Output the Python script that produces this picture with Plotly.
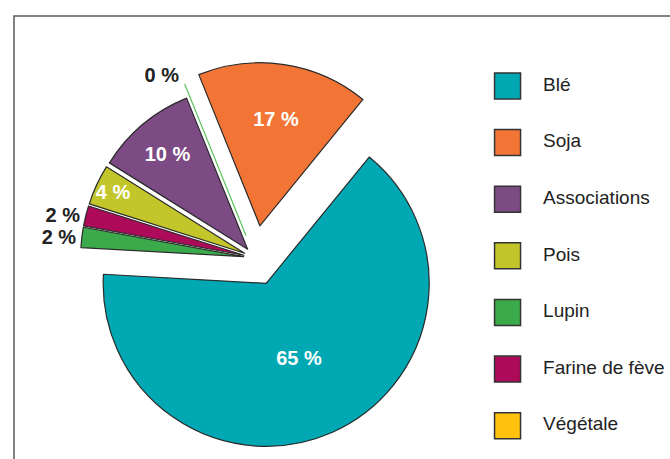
import plotly.graph_objects as go

# ---- data ----
slice_labels = ["Soja", "Blé", "Lupin", "Farine de fève", "Pois", "Associations", "Végétale"]
slice_values = [17, 65, 2, 2, 4, 10, 0]
legend_labels = ["Blé", "Soja", "Associations", "Pois", "Lupin", "Farine de fève", "Végétale"]

# ---- styles ----
COLORS = {
    "Blé": "#00A8B4",
    "Soja": "#F27536",
    "Associations": "#7D4B84",
    "Pois": "#C3C62A",
    "Lupin": "#3BAA4A",
    "Farine de fève": "#AE0A5A",
    "Végétale": "#FFC20F",
}
LINE_COLORS = {k: "#2a2a2a" for k in COLORS}
LINE_COLORS["Végétale"] = "#5CC45C"
PULL = {"Soja": 0.2, "Blé": 0.17, "Lupin": 0.07, "Farine de fève": 0.07,
        "Pois": 0.07, "Associations": 0.07, "Végétale": 0.15}
TEXTPOS = {"Soja": "inside", "Blé": "inside", "Lupin": "outside", "Farine de fève": "outside",
           "Pois": "inside", "Associations": "inside", "Végétale": "outside"}

FONT = "Liberation Sans, Arial, sans-serif"
W, H = 670, 459

def px(x):
    return x / W

def py(y):
    return 1 - y / H

fig = go.Figure()

fig.add_trace(go.Pie(
    labels=slice_labels,
    values=slice_values,
    sort=False,
    direction="clockwise",
    rotation=-22,
    pull=[PULL[l] for l in slice_labels],
    marker=dict(colors=[COLORS[l] for l in slice_labels],
                line=dict(color=[LINE_COLORS[l] for l in slice_labels], width=1.2)),
    texttemplate="%{value} %",
    textposition=[TEXTPOS[l] for l in slice_labels],
    insidetextorientation="horizontal",
    insidetextfont=dict(family=FONT, size=20, color="white", weight="bold"),
    outsidetextfont=dict(family=FONT, size=20, color="#222222", weight="bold"),
    showlegend=False,
    hoverinfo="skip",
    domain=dict(x=[px(59.4), px(450.6)], y=[py(453.6), py(62.4)]),
))

# legend drawn as squares + labels on a hidden axis
fig.add_trace(go.Scatter(
    x=[0.145] * len(legend_labels), y=legend_labels, mode="markers",
    marker=dict(symbol="square", size=26, color=[COLORS[l] for l in legend_labels],
                line=dict(color="#333333", width=1.5)),
    showlegend=False, hoverinfo="skip", xaxis="x", yaxis="y",
))
fig.add_trace(go.Scatter(
    x=[0.332] * len(legend_labels), y=legend_labels, mode="text",
    text=legend_labels, textposition="middle right",
    textfont=dict(family=FONT, size=19, color="#222222"),
    cliponaxis=False,
    showlegend=False, hoverinfo="skip", xaxis="x", yaxis="y",
))

fig.update_layout(
    width=W, height=H,
    margin=dict(l=0, r=0, t=0, b=0, autoexpand=False),
    paper_bgcolor="white", plot_bgcolor="rgba(0,0,0,0)",
    uniformtext=dict(minsize=20, mode="show"),
    xaxis=dict(domain=[px(480), 1], range=[0, 1], visible=False, fixedrange=True),
    yaxis=dict(domain=[py(454), py(57.7)], range=[6.5, -0.5], visible=False,
               type="category", fixedrange=True),
    shapes=[dict(type="rect", xref="paper", yref="paper",
                 x0=px(14), x1=1.03, y0=-0.03, y1=py(16),
                 line=dict(color="#5a5a5a", width=1.5), fillcolor="rgba(0,0,0,0)",
                 layer="below")],
)

fig.write_html(
    "out.html",
    config={"displayModeBar": False},
    post_script="document.body.style.margin='0';document.body.style.overflow='hidden';",
)
